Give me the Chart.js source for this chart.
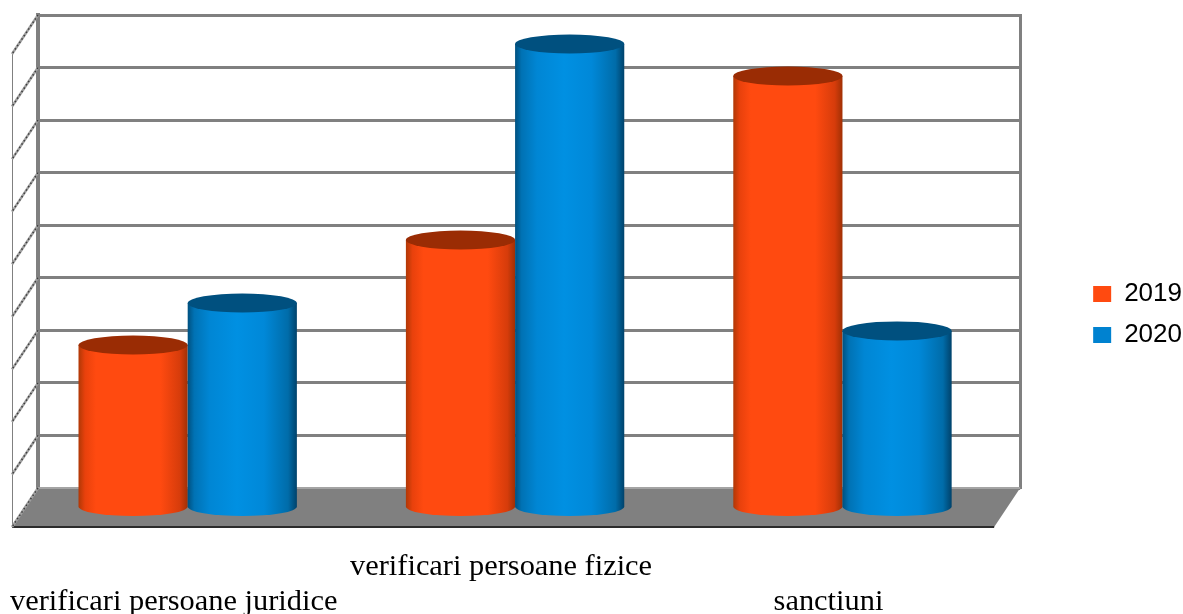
<!DOCTYPE html>
<html>
<head>
<meta charset="utf-8">
<title>Verificari si sanctiuni</title>
<script src="https://cdn.jsdelivr.net/npm/chart.js@4/dist/chart.umd.min.js"></script>
<style>
  html, body { margin: 0; padding: 0; background: #fff; overflow: hidden; }
  #wrap { width: 1183px; height: 614px; }
</style>
</head>
<body>
<div id="wrap"><canvas id="myChart" width="1183" height="614"></canvas></div>
<script>
const categories = ["verificari persoane juridice", "verificari persoane fizice", "sanctiuni"];
const values2019 = [3.1, 5.1, 8.22];
const values2020 = [3.9, 8.83, 3.37];
// the middle label sits one row above the two others
const tickRows = [1, 0, 1];
const gridMax = 9;

const GREY = "#808080";

// bars stand halfway into the floor, which goes 26px left and 39px down
const depth = { x: -26, y: 39 };
const barShift = { x: -14, y: 20 };

const looks = [
  { top: "#9a2c04", stops: [[0, "#b03806"], [0.06, "#e8410c"], [0.16, "#ff4a10"], [0.75, "#ff4a10"], [0.93, "#d63c0b"], [1, "#a03005"]] },
  { top: "#00507f", stops: [[0, "#00507f"], [0.06, "#0072b4"], [0.2, "#0086d4"], [0.45, "#0090e2"], [0.7, "#0088d8"], [0.92, "#006ca9"], [1, "#00426b"]] },
];

const wallPlugin = {
  id: "wall",
  beforeDatasetsDraw(chart) {
    const { ctx, chartArea: a, scales } = chart;
    const yScale = scales.y;
    ctx.save();

    // floor
    ctx.fillStyle = GREY;
    ctx.beginPath();
    ctx.moveTo(a.left, a.bottom);
    ctx.lineTo(a.right, a.bottom);
    ctx.lineTo(a.right + depth.x, a.bottom + depth.y);
    ctx.lineTo(a.left + depth.x, a.bottom + depth.y);
    ctx.closePath();
    ctx.fill();
    ctx.fillStyle = "#a4a4a4";
    ctx.fillRect(a.left, a.bottom - 1, a.right - a.left, 2);
    ctx.fillStyle = "#2c2c2c";
    ctx.fillRect(a.left + depth.x, a.bottom + depth.y - 1, a.right - a.left, 2);

    // left side wall
    ctx.strokeStyle = GREY;
    ctx.lineWidth = 1;
    ctx.beginPath();
    ctx.moveTo(a.left + depth.x + 0.5, a.top + depth.y);
    ctx.lineTo(a.left + depth.x + 0.5, a.bottom + depth.y);
    ctx.stroke();
    yScale.ticks.forEach(function (tick) {
      const y = yScale.getPixelForValue(tick.value);
      ctx.strokeStyle = "#a0a0a0";
      ctx.setLineDash([]);
      ctx.lineWidth = 2.5;
      ctx.beginPath();
      ctx.moveTo(a.left, y);
      ctx.lineTo(a.left + depth.x, y + depth.y);
      ctx.stroke();
      ctx.strokeStyle = "#3c3c3c";
      ctx.lineWidth = 1.5;
      ctx.setLineDash([1.5, 2.5]);
      ctx.stroke();
    });
    ctx.restore();
  },
  beforeDatasetDraw() {
    return false; // cylinders are painted below
  },
  afterDatasetsDraw(chart) {
    const { ctx } = chart;
    chart.data.datasets.forEach(function (dataset, i) {
      chart.getDatasetMeta(i).data.forEach(function (bar) {
        const look = looks[i];
        const left = bar.x - bar.width / 2 + barShift.x;
        const right = left + bar.width;
        const cx = (left + right) / 2;
        const top = bar.y + barShift.y;
        const base = bar.base + barShift.y;
        const rx = bar.width / 2;
        const ry = 9.5;
        const grad = ctx.createLinearGradient(left, 0, right, 0);
        look.stops.forEach(function (s) { grad.addColorStop(s[0], s[1]); });
        ctx.save();
        ctx.fillStyle = grad;
        ctx.beginPath();
        ctx.moveTo(left, top);
        ctx.lineTo(left, base);
        ctx.ellipse(cx, base, rx, ry, 0, Math.PI, 0, true);
        ctx.lineTo(right, top);
        ctx.closePath();
        ctx.fill();
        ctx.fillStyle = look.top;
        ctx.beginPath();
        ctx.ellipse(cx, top, rx, ry, 0, 0, Math.PI * 2);
        ctx.fill();
        ctx.restore();
      });
    });
  },
};

const ctx = document.getElementById("myChart").getContext("2d");

const myChart = new Chart(ctx, {
  type: "bar",
  data: {
    labels: categories.map(function (name, i) {
      return tickRows[i] === 0 ? [name, ""] : ["", name];
    }),
    datasets: [
      { label: "2019", data: values2019, backgroundColor: "#ff4a10", borderWidth: 0 },
      { label: "2020", data: values2020, backgroundColor: "#0082d0", borderWidth: 0 },
    ],
  },
  options: {
    responsive: false,
    animation: false,
    layout: { padding: { top: 15, left: 0, right: -9, bottom: 0 } },
    datasets: { bar: { categoryPercentage: 0.667, barPercentage: 1 } },
    plugins: {
      tooltip: { enabled: false },
      legend: {
        position: "right",
        labels: {
          boxWidth: 18,
          boxHeight: 16,
          padding: 15,
          color: "#000",
          font: { family: "'Liberation Sans'", size: 26 },
        },
      },
    },
    scales: {
      x: {
        grid: { display: false },
        border: { display: false },
        afterFit(axis) {
          axis.height = 126;
          // long labels must not push the wall inwards
          axis.paddingLeft = 0;
          axis.paddingRight = 0;
        },
        ticks: {
          color: "#000",
          padding: 54,
          maxRotation: 0,
          autoSkip: false,
          labelOffset: -28,
          font: { family: "'Liberation Serif'", size: 30.4, lineHeight: 1.15 },
        },
      },
      y: {
        min: 0,
        max: gridMax,
        afterFit(axis) { axis.width = 38; },
        ticks: { display: false, stepSize: 1 },
        grid: { color: GREY, lineWidth: 3, drawTicks: false },
        border: { display: true, color: GREY, width: 4 },
      },
      // right wall, also keeps the gap up to the legend
      yRight: {
        position: "right",
        min: 0,
        max: gridMax,
        afterFit(axis) { axis.width = 58; },
        ticks: { display: false },
        grid: { drawOnChartArea: false, drawTicks: false },
        border: { display: true, color: GREY, width: 3 },
      },
    },
  },
  plugins: [wallPlugin],
});
</script>
</body>
</html>
